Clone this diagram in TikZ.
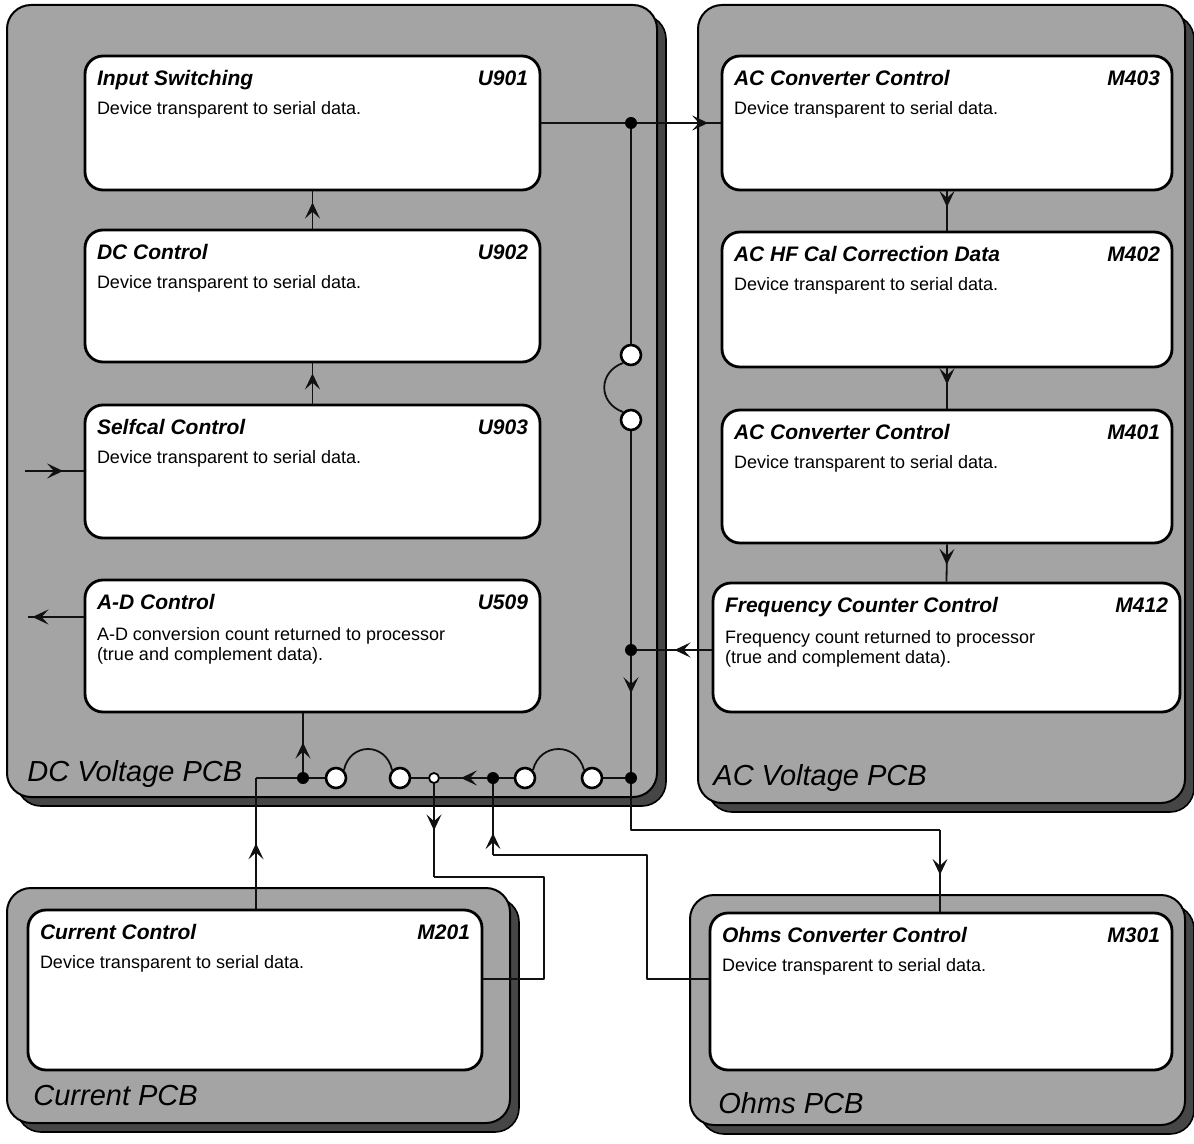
\documentclass[tikz,border=0pt]{standalone}
\usepackage{fontspec}
\setmainfont{Liberation Sans}
\usetikzlibrary{arrows.meta,decorations.markings,fit}
\definecolor{Board}{HTML}{A4A4A4}
\definecolor{BoardShade}{HTML}{464646}
\definecolor{Wire}{HTML}{111111}
\tikzset{flowtip/.tip={Stealth[length=8pt,width=7.5pt,inset=3.4pt]}}

\begin{document}
\begin{tikzpicture}[x=.5pt,y=-.5pt,line join=round,
  pcb/.style={draw=black,line width=1pt,fill=Board,rounded corners=12pt},
  pcbshade/.style={draw=black,line width=.8pt,fill=BoardShade,rounded corners=12pt},
  card/.style={draw=black,line width=1.4pt,fill=white,rounded corners=9pt,inner sep=0pt},
  ttl/.style={font=\fontsize{10.5}{12}\selectfont\bfseries\itshape,inner sep=0pt},
  body/.style={font=\fontsize{9}{10}\selectfont,align=left,inner sep=0pt},
  board/.style={font=\fontsize{14.5}{16}\selectfont\itshape,inner sep=0pt},
  wire/.style={line width=.9pt,draw=Wire},
  flowat/.style={wire,postaction={decorate},decoration={markings,mark=at position #1 with {\arrow{flowtip}}}},
  dot/.style={circle,fill=black,inner sep=0pt,minimum size=6pt},
  ring/.style={circle,draw=black,line width=1.3pt,fill=white,inner sep=0pt,minimum size=10pt},
  tap/.style={circle,draw=black,line width=.9pt,fill=white,inner sep=0pt,minimum size=5pt}]
\useasboundingbox (0,0) rectangle (1194,1144);
% boards
\foreach \xa/\ya/\xb/\yb in {7/5/657/797, 698/5/1185/803, 7/888/510/1123, 690/895/1185/1125}{
  \draw[pcbshade] (\xa+10,\ya+10) rectangle (\xb+9,\yb+9);
  \draw[pcb] (\xa,\ya) rectangle (\xb,\yb);}
\node[board,anchor=base west] (dclbl) at (27,781) {DC Voltage PCB};
\node[board,anchor=base west] (aclbl) at (713,785) {AC Voltage PCB};
\node[board,anchor=base west] (curlbl) at (33,1105) {Current PCB};
\node[board,anchor=base west] (ohmlbl) at (718,1113) {Ohms PCB};
% device cards (\by = baseline of the last body line)
\foreach \nm/\xa/\ya/\xb/\yb/\ti/\idn/\by/\tx in {
  u901/85/56/540/190/Input Switching/U901/60/{Device transparent to serial data.},
  u902/85/230/540/362/DC Control/U902/60/{Device transparent to serial data.},
  u903/85/405/540/538/Selfcal Control/U903/60/{Device transparent to serial data.},
  u509/85/580/540/712/A-D Control/U509/82/{A-D conversion count returned to processor\\(true and complement data).},
  m403/722/56/1172/190/AC Converter Control/M403/60/{Device transparent to serial data.},
  m402/722/232/1172/367/AC HF Cal Correction Data/M402/60/{Device transparent to serial data.},
  m401/722/410/1172/543/AC Converter Control/M401/60/{Device transparent to serial data.},
  m412/713/583/1180/712/Frequency Counter Control/M412/82/{Frequency count returned to processor\\(true and complement data).},
  m201/28/910/482/1070/Current Control/M201/60/{Device transparent to serial data.},
  m301/710/913/1172/1070/Ohms Converter Control/M301/60/{Device transparent to serial data.}}{
  \node[card,fit={(\xa,\ya)(\xb,\yb)}] (\nm) {};
  \node[ttl,anchor=base west] (\nm-t) at ([shift={(13,31)}]\nm.north west) {\ti};
  \node[ttl,anchor=base east] (\nm-n) at ([shift={(-13,31)}]\nm.north east) {\idn};
  \node[body,anchor=base west] (\nm-b) at ([shift={(13,\by)}]\nm.north west) {\tx};}
% junctions and crossovers
\node[dot] (s1) at (631,123) {};
\node[ring] (r5) at (631,355) {};
\node[ring] (r6) at (631,420) {};
\node[dot] (s2) at (631,650) {};
\node[dot] (s3) at (631,778) {};
\node[dot] (s4) at (303,778) {};
\node[ring] (r1) at (336,778) {};
\node[ring] (r2) at (400,778) {};
\node[tap] (t1) at (434,778) {};
\node[dot] (s5) at (493,778) {};
\node[ring] (r3) at (525,778) {};
\node[ring] (r4) at (592,778) {};
\coordinate (c0) at (256,778);
\coordinate (k1) at (434,877);
\coordinate (k2) at (544,877);
\coordinate (k3) at (544,979);
\coordinate (o1) at (631,830);
\coordinate (o2) at (940,830);
\coordinate (h1) at (647,979);
\coordinate (h2) at (647,855);
\coordinate (h3) at (493,855);
\coordinate (in0) at (25,471);
\coordinate (out0) at (28,617);
% serial data path
\draw[flowat=.65] (in0) -- (in0 -| u903.west);
\draw[flowat=.75] (u903.north) -- (u902.south);
\draw[flowat=.7] (u902.north) -- (u901.south);
\draw[wire] (u901.east) -- (s1);
\draw[flowat=.85] (s1) -- (s1 -| m403.west);
\draw[flowat=.4] (m403.south) -- (m402.north);
\draw[flowat=.4] (m402.south) -- (m401.north);
\draw[flowat=.55] (m401.south) -- (m412.north);
\draw[flowat=.5] (s2 -| m412.west) -- (s2);
\draw[wire] (s1) -- (r5);
\draw[wire] (r5.south west) .. controls (598,372) and (598,403) .. (r6.north west);
\draw[wire] (r6) -- (s2);
\draw[flowat=.32] (s2) -- (s3);
\draw[wire] (s3) -- (o1) -- (o2);
\draw[flowat=.55] (o2) -- (o2 |- m301.north);
\draw[wire] (h1 -| m301.west) -- (h1) -- (h2) -- (h3);
\draw[flowat=.31] (h3) -- (s5);
\draw[wire] (r4) -- (s3);
\draw[wire] (r3.north east) .. controls (540,742) and (577,742) .. (r4.north west);
\draw[wire] (s5) -- (r3);
\draw[flowat=.55] (s5) -- (t1);
\draw[flowat=.5] (t1) -- (k1);
\draw[wire] (k1) -- (k2) -- (k3) -- (k3 -| m201.east);
\draw[wire] (t1) -- (r2);
\draw[wire] (r1.north east) .. controls (350,742) and (386,742) .. (r2.north west);
\draw[wire] (r1) -- (s4) -- (c0);
\draw[flowat=.5] (c0 |- m201.north) -- (c0);
\draw[flowat=.5] (s4) -- (s4 |- u509.south);
\draw[flowat=.92] (out0 -| u509.west) -- (out0);
\end{tikzpicture}
\end{document}
